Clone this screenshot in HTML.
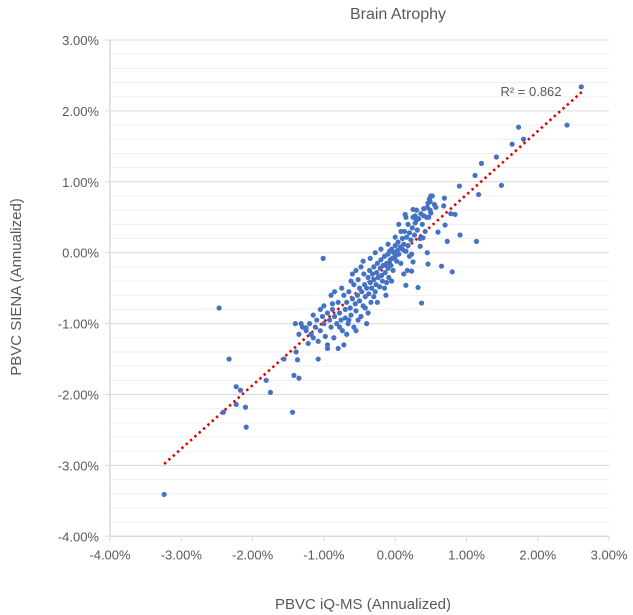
<!DOCTYPE html>
<html><head><meta charset="utf-8"><style>
body{margin:0;background:#fff;}
svg{display:block;font-family:"Liberation Sans",sans-serif;}
</style></head><body>
<svg id="chart" width="633" height="615" viewBox="0 0 633 615">
<text x="398" y="19" font-size="16" fill="#595959" text-anchor="middle">Brain Atrophy</text>
<g id="grid"></g>
<g id="axes"></g>
<g id="trend"></g>
<g id="pts"></g>
<text x="531" y="96" font-size="13" fill="#595959" text-anchor="middle">R² = 0.862</text>
<text x="363" y="609" font-size="15" fill="#595959" text-anchor="middle">PBVC iQ-MS (Annualized)</text>
<text x="0" y="0" font-size="15" fill="#595959" text-anchor="middle" transform="translate(21,287) rotate(-90)">PBVC SIENA (Annualized)</text>
</svg>
<script>
const xTicks=[-4,-3,-2,-1,0,1,2,3];
const yTicks=[3,2,1,0,-1,-2,-3,-4];
const xTickLabels=["-4.00%","-3.00%","-2.00%","-1.00%","0.00%","1.00%","2.00%","3.00%"];
const yTickLabels=["3.00%","2.00%","1.00%","0.00%","-1.00%","-2.00%","-3.00%","-4.00%"];
const trendX=[-3.24,2.62];
const trendY=[-2.98,2.27];
const ptsX=[-3.24,-2.47,-2.33,-2.23,-2.17,-2.23,-2.41,-2.10,-2.09,-1.81,-1.75,-1.44,-1.42,-1.35,-1.56,-1.37,-1.39,-1.08,-1.32,-1.25,
2.61,2.41,1.73,1.80,1.64,1.42,1.21,1.12,1.49,0.90,1.17,0.91,1.14,0.73,0.80,0.65,0.46,0.69,0.68,0.84,0.78,0.70,0.60,0.45,0.25,0.14,0.39,0.35,0.23,0.25,0.17,0.23,
0.50,0.52,0.48,0.49,0.55,0.57,0.45,0.49,0.50,0.40,0.47,0.28,0.30,-1.01,0.37,0.15,0.32,
-1.30,-1.25,-1.20,-1.18,-1.15,-1.12,-1.10,-1.08,-1.05,-1.02,-1.00,-0.98,-0.95,-0.95,-0.92,-0.90,-0.88,-0.86,-0.85,-0.82,-0.80,-0.80,-0.78,-0.76,-0.74,-0.72,-0.70,-0.70,-0.68,-0.66,-0.65,-0.63,-0.62,-0.60,-0.58,-0.58,-0.56,-0.55,-0.53,-0.52,-0.50,-0.50,-0.48,-0.47,-0.45,-0.44,-0.43,-0.42,-0.40,-0.40,-0.38,-0.37,-0.36,-0.35,-0.34,-0.33,-0.32,-0.30,-0.30,-0.28,-0.27,-0.26,-0.25,-0.24,-0.22,-0.21,-0.20,-0.19,-0.18,-0.17,-0.15,-0.14,-0.13,-0.12,-0.10,-0.10,-0.09,-0.08,-0.07,-0.06,-0.05,-0.04,-0.03,-0.02,0.00,0.00,0.02,0.03,0.04,0.05,0.07,0.08,0.10,0.10,0.12,0.13,0.15,0.16,0.18,0.18,0.20,0.22,0.24,0.25,0.27,0.28,0.30,0.31,0.33,0.35,0.36,0.38,0.40,0.42,0.44,0.46,
-1.35,-1.22,-1.40,-1.00,-0.90,-0.75,-0.62,-0.55,-0.45,-0.35,-0.68,-0.55,-0.38,-0.25,-0.15,-0.05,-0.60,-0.85,-1.05,-0.20,-0.10,0.00,0.05,0.15,-0.30,-0.48,-0.95,-0.72,-0.28,0.08,-0.42,-0.65,-0.78,-0.88,-1.15,-0.52,-0.12,0.20,0.12];
const ptsY=[-3.41,-0.78,-1.50,-1.89,-1.94,-2.14,-2.25,-2.18,-2.46,-1.80,-1.97,-2.25,-1.73,-1.77,-1.50,-1.51,-1.40,-1.50,-1.00,-1.06,
2.34,1.80,1.77,1.60,1.53,1.35,1.26,1.09,0.95,0.94,0.82,0.25,0.16,0.16,-0.27,-0.19,-0.16,0.77,0.66,0.54,0.55,0.39,0.29,0.00,0.61,0.54,0.21,0.09,-0.02,-0.13,-0.25,-0.26,
0.80,0.80,0.76,0.72,0.68,0.64,0.64,0.60,0.56,0.52,0.50,0.52,0.46,-0.08,-0.71,-0.46,-0.49,
-1.05,-1.10,-1.00,-1.15,-1.20,-1.05,-0.95,-1.25,-1.10,-0.90,-1.00,-1.18,-0.85,-1.30,-0.95,-1.05,-0.80,-1.20,-0.90,-1.00,-0.70,-1.35,-0.85,-0.95,-1.10,-0.60,-0.80,-0.92,-0.70,-1.00,-0.55,-0.78,-0.88,-0.65,-0.45,-1.05,-0.72,-0.82,-0.60,-0.38,-0.68,-0.50,-0.90,-0.55,-0.75,-0.30,-0.45,-0.62,-0.50,-1.00,-0.35,-0.58,-0.25,-0.42,-0.70,-0.50,-0.30,-0.38,-0.20,-0.55,-0.45,-0.28,-0.15,-0.35,-0.48,-0.22,-0.10,-0.32,-0.40,-0.18,-0.05,-0.28,-0.60,-0.15,-0.02,-0.22,-0.35,0.02,-0.10,-0.18,0.05,-0.08,-0.25,0.00,-0.05,0.10,-0.12,0.03,0.15,-0.02,0.08,-0.15,0.20,0.05,0.12,0.30,0.02,0.22,0.40,0.10,0.28,0.18,0.35,0.50,0.25,0.42,0.60,0.32,0.48,0.20,0.55,0.40,0.62,0.30,0.50,0.70,
-1.15,-1.28,-1.00,-0.75,-0.60,-0.50,-0.40,-0.25,-0.12,-0.08,-1.15,-1.10,-0.85,-0.70,-0.50,-0.40,-0.30,-0.55,-0.80,0.05,0.12,0.22,0.40,0.50,-0.62,-0.20,-1.35,-1.30,0.00,0.30,-0.78,-0.95,-1.05,-0.72,-0.88,-0.95,-0.42,-0.05,-0.30];

const NS="http://www.w3.org/2000/svg";
const X0=110,XS=71.3,Y0=40,YS=70.9;
function sx(v){return X0+(v+4)*XS;}
function sy(v){return Y0+(3-v)*YS;}
function mk(t,a,p){const e=document.createElementNS(NS,t);for(const k in a)e.setAttribute(k,a[k]);p.appendChild(e);return e;}
const grid=document.getElementById('grid'),axes=document.getElementById('axes'),trend=document.getElementById('trend'),pts=document.getElementById('pts');
for(let i=0;i<35;i++){
  const v=3-i*0.2;
  if(i%5===0)continue;
  const l=mk('line',{x1:sx(-4),x2:sx(3),y1:sy(v),y2:sy(v),stroke:'#f0f0f0','stroke-width':1},grid);
  
  
}
yTicks.forEach((v,i)=>{
  const l=mk('line',{x1:sx(-4)-5,x2:sx(3),y1:sy(v),y2:sy(v),stroke:'#d9d9d9','stroke-width':1},grid);
  
  
  const t=mk('text',{x:sx(-4)-11,y:sy(v)+5,'font-size':13,fill:'#595959','text-anchor':'end'},axes);
  t.textContent=yTickLabels[i];
  
  
});
const ya=mk('line',{x1:sx(-4),x2:sx(-4),y1:sy(3),y2:sy(-4),stroke:'#d9d9d9','stroke-width':1.5},axes);


const xa=mk('line',{x1:sx(-4),x2:sx(3),y1:sy(-4),y2:sy(-4),stroke:'#d9d9d9','stroke-width':1.5},axes);


xTicks.forEach((v,i)=>{
  const l=mk('line',{x1:sx(v),x2:sx(v),y1:sy(-4),y2:sy(-4)+5,stroke:'#d9d9d9','stroke-width':1},axes);
  
  
  const t=mk('text',{x:sx(v),y:sy(-4)+23,'font-size':13,fill:'#595959','text-anchor':'middle'},axes);
  t.textContent=xTickLabels[i];
  
  
});
const tl=mk('line',{x1:sx(trendX[0]),y1:sy(trendY[0]),x2:sx(trendX[1]),y2:sy(trendY[1]),stroke:'#e00000','stroke-width':2.6,'stroke-dasharray':'2.4 3.4'},trend);


ptsX.forEach((x,i)=>{
  const c=mk('circle',{cx:sx(x),cy:sy(ptsY[i]),r:2.6,fill:'#4472c4'},pts);
  
  
});
</script>
</body></html>
